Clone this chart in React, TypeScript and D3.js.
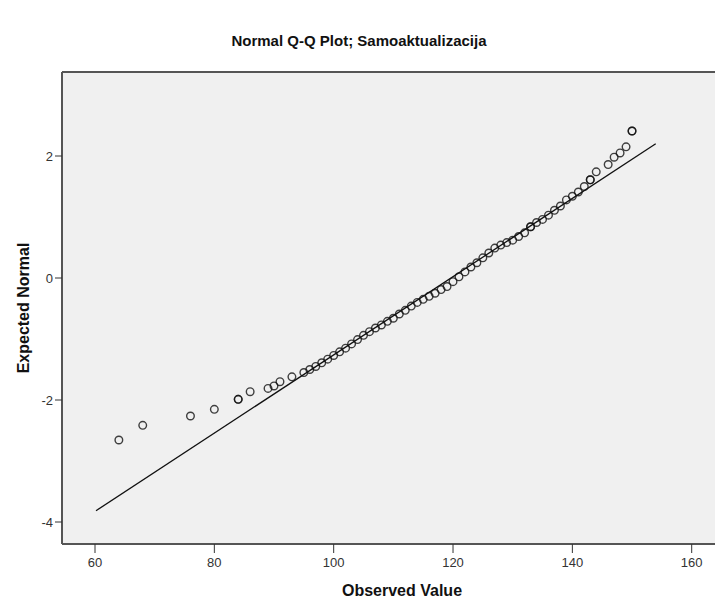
import React from "react";
import * as d3 from "d3";

const observed = [
  64, 68, 76, 80, 84, 84, 86, 89, 90, 91, 93, 95, 96, 97, 98, 99,
  100, 101, 102, 103, 104, 105, 106, 107, 108, 109, 110, 111, 112, 113, 114,
  115, 116, 117, 118, 119, 120, 121, 122, 123, 124, 125, 126, 127, 128, 129,
  130, 131, 132, 133, 133, 134, 135, 136, 137, 138, 139, 140, 141, 142, 143, 143,
  144, 146, 147, 148, 149, 150, 150,
];
const expected = [
  -2.656, -2.415, -2.262, -2.153, -1.989, -1.989, -1.864, -1.81, -1.77, -1.7, -1.62, -1.55, -1.5, -1.45, -1.39, -1.33,
  -1.27, -1.21, -1.15, -1.08, -1.01, -0.94, -0.88, -0.82, -0.77, -0.71, -0.66, -0.59, -0.53, -0.46, -0.4,
  -0.35, -0.3, -0.25, -0.19, -0.14, -0.06, 0.02, 0.1, 0.18, 0.25, 0.33, 0.41, 0.49, 0.54, 0.58,
  0.62, 0.68, 0.74, 0.84, 0.84, 0.91, 0.96, 1.03, 1.11, 1.18, 1.28, 1.34, 1.41, 1.5, 1.61, 1.61,
  1.74, 1.86, 1.98, 2.05, 2.15, 2.41, 2.41,
];

// Reference line (normal fit) end points
const lineObserved = [60.17, 153.97];
const lineExpected = [-3.815, 2.2];

const xTicks = [60, 80, 100, 120, 140, 160];
const yTicks = [-4, -2, 0, 2];

const title = "Normal Q-Q Plot; Samoaktualizacija";
const xLabel = "Observed Value";
const yLabel = "Expected Normal";

export default function App() {
  const W = 715;
  const H = 601;
  const left = 62;
  const right = 730;
  const top = 72;
  const bottom = 544;

  const x = d3.scaleLinear().domain([60, 160]).range([95, 691.7]);
  const y = d3.scaleLinear().domain([-4, 2]).range([522, 156]);

  const line = d3
    .line<number>()
    .x((_, i) => x(lineObserved[i]))
    .y((d) => y(d));

  const font = "'Liberation Sans', Arial, sans-serif";

  return (
    <svg
      width={W}
      height={H}
      style={{ position: "absolute", left: 0, top: 0, background: "#fff" }}
    >
      <text
        x={359}
        y={46}
        textAnchor="middle"
        fontFamily={font}
        fontSize={15}
        fontWeight="bold"
        fill="#111"
      >
        {title}
      </text>

      <rect
        x={left}
        y={top}
        width={right - left}
        height={bottom - top}
        fill="#f0f0f0"
      />

      {/* reference line */}
      <path
        d={line(lineExpected) || ""}
        fill="none"
        stroke="#111"
        strokeWidth={1.3}
      />

      {/* points */}
      {observed.map((v, i) => (
        <circle
          key={i}
          cx={x(v)}
          cy={y(expected[i])}
          r={3.8}
          fill="none"
          stroke="#111"
          strokeOpacity={0.8}
          strokeWidth={1.4}
        />
      ))}

      {/* frame */}
      <line x1={left} x2={right} y1={top} y2={top} stroke="#555" strokeWidth={2} />
      <line x1={left} x2={left} y1={top} y2={bottom} stroke="#555" strokeWidth={2} />
      <line x1={left} x2={right} y1={bottom} y2={bottom} stroke="#555" strokeWidth={2} />

      {/* y ticks */}
      {yTicks.map((t) => (
        <g key={"y" + t}>
          <line x1={55} x2={left} y1={y(t)} y2={y(t)} stroke="#333" strokeWidth={1} />
          <text
            x={53}
            y={y(t) + 4.5}
            textAnchor="end"
            fontFamily={font}
            fontSize={13}
            fill="#333"
          >
            {t}
          </text>
        </g>
      ))}

      {/* x ticks */}
      {xTicks.map((t) => (
        <g key={"x" + t}>
          <line x1={x(t)} x2={x(t)} y1={bottom} y2={553} stroke="#333" strokeWidth={1} />
          <text
            x={x(t)}
            y={567}
            textAnchor="middle"
            fontFamily={font}
            fontSize={13}
            fill="#333"
          >
            {t}
          </text>
        </g>
      ))}

      <text
        x={402}
        y={596}
        textAnchor="middle"
        fontFamily={font}
        fontSize={16}
        fontWeight="bold"
        fill="#111"
      >
        {xLabel}
      </text>
      <text
        transform={`translate(29, ${(top + bottom) / 2}) rotate(-90)`}
        textAnchor="middle"
        fontFamily={font}
        fontSize={16}
        fontWeight="bold"
        fill="#111"
      >
        {yLabel}
      </text>
    </svg>
  );
}
